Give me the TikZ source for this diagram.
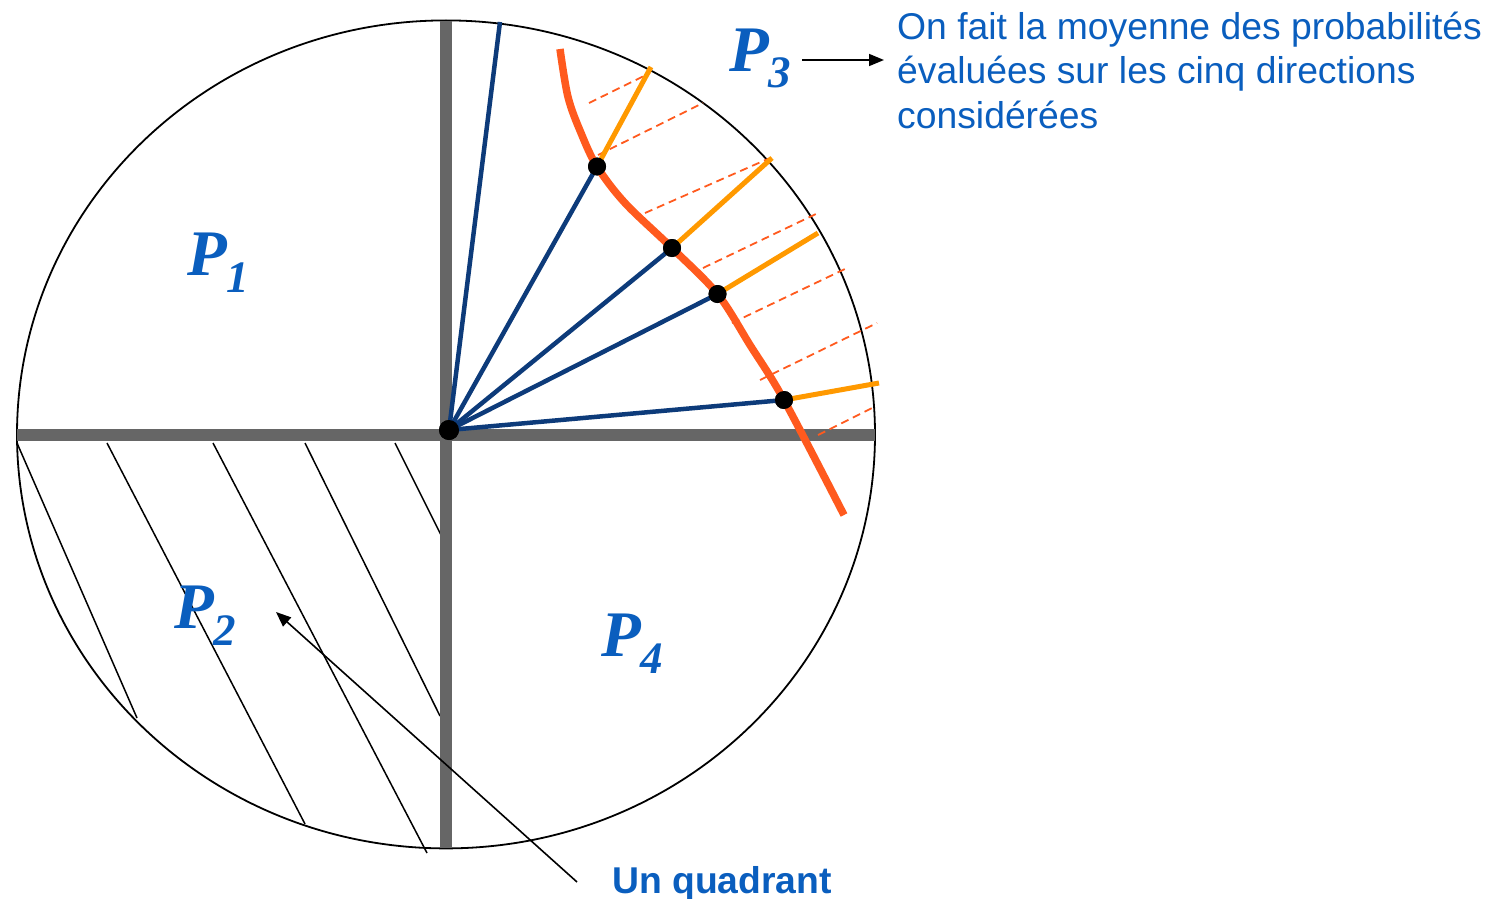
\documentclass[tikz,border=0pt]{standalone}
\usepackage{fontspec}
\setmainfont{Liberation Serif}
\newfontfamily\sansf{Liberation Sans}
\usetikzlibrary{arrows.meta}
\definecolor{pblue}{RGB}{10,94,190}
\definecolor{navy}{RGB}{13,59,122}
\definecolor{amber}{RGB}{255,153,0}
\definecolor{redor}{RGB}{255,90,30}
\definecolor{barg}{RGB}{102,102,102}
\tikzset{
  plabel/.style={inner sep=0pt, anchor=base west, text=pblue,
    font=\fontsize{65}{65}\selectfont\bfseries\itshape},
  bluetext/.style={inner sep=0pt, anchor=base west, text=pblue,
    font=\sansf\fontsize{37.3}{43}\selectfont},
  quadlabel/.style={inner sep=0pt, anchor=base west, text=pblue,
    font=\sansf\bfseries\fontsize{37.3}{43}\selectfont},
  bigdot/.style={circle, fill=black, inner sep=0pt, minimum size=18pt},
  axisbar/.style={draw=barg, line width=12pt},
  ray/.style={draw=navy, line width=4.5pt},
  ext/.style={draw=amber, line width=5pt},
  curveline/.style={draw=redor, line width=7.5pt},
  dashline/.style={draw=redor, line width=1.8pt, dash pattern=on 8pt off 5pt},
  hatch/.style={draw=black, line width=1.5pt},
  pointer/.style={draw=black, line width=1.6pt, -{Triangle[length=15pt,width=12pt]}}
}
\newcommand{\psub}[2]{#1\raisebox{-17pt}{\fontsize{45}{45}\selectfont #2}}
\begin{document}
\begin{tikzpicture}[x=1pt,y=-1pt]
\useasboundingbox (0,0) rectangle (1502,899);
% hatch lines in lower-left quadrant
\draw[hatch] (17,443) -- (137,718);
\draw[hatch] (107,443) -- (305,824);
\draw[hatch] (213,443) -- (427,853);
\draw[hatch] (305,443) -- (440,716);
\draw[hatch] (395,443) -- (441,535);
% ellipse
\draw[black, line width=1.8pt] (446,434.4) ellipse [x radius=429pt, y radius=414pt];
% axes
\draw[axisbar] (446,21) -- (446,848);
\draw[axisbar] (17,434.5) -- (875,434.5);
% dashed lines
\draw[dashline] (589,103) -- (650,73);
\draw[dashline] (598,155) -- (703,103);
\draw[dashline] (645,213) -- (770,158);
\draw[dashline] (703,268) -- (818,213);
\draw[dashline] (732,323) -- (847,268);
\draw[dashline] (760,380) -- (877,323);
\draw[dashline] (818,435) -- (876,406);
% nodes
\node[bigdot, minimum size=20pt] (o) at (449,430) {};
\node[bigdot] (d1) at (597,166.5) {};
\node[bigdot] (d2) at (672,248) {};
\node[bigdot] (d3) at (717.5,294) {};
\node[bigdot] (d4) at (784,400) {};
\coordinate (t0) at (500,22);
\coordinate (e1) at (651,67);
\coordinate (e2) at (772,158);
\coordinate (e3) at (818,233);
\coordinate (e4) at (879,383);
% rays
\draw[ray] (o.center) -- (t0);
\draw[ray] (o.center) -- (d1.center);
\draw[ray] (o.center) -- (d2.center);
\draw[ray] (o.center) -- (d3.center);
\draw[ray] (o.center) -- (d4.center);
% extensions
\draw[ext] (d1.center) -- (e1);
\draw[ext] (d2.center) -- (e2);
\draw[ext] (d3.center) -- (e3);
\draw[ext] (d4.center) -- (e4);
% curve
\draw[curveline] plot[smooth, tension=0.55] coordinates {(560,49) (568,97) (581,133) (597,166.5) (625,203) (672,248) (717.5,294) (750,345) (784,400) (844,515)};
% redraw dots on top
\node[bigdot, minimum size=20pt] at (o) {};
\node[bigdot] at (d1) {};
\node[bigdot] at (d2) {};
\node[bigdot] at (d3) {};
\node[bigdot] at (d4) {};
% labels
\node[plabel] (p1) at (187,275) {\psub{P}{1}};
\node[plabel] (p2) at (174,628) {\psub{P}{2}};
\node[plabel] (p3) at (729,71) {\psub{P}{3}};
\node[plabel] (p4) at (601,656) {\psub{P}{4}};
% right text
\node[bluetext] (l1) at (897,40) {On fait la moyenne des probabilités};
\node[bluetext] (l2) at (897,84) {évaluées sur les cinq directions};
\node[bluetext] (l3) at (897,128) {considérées};
\coordinate (a3s) at (802,60);
\coordinate (a3e) at (884,60);
\draw[pointer] (a3s) -- (a3e);
% quadrant label
\node[quadlabel] (q) at (612,893) {Un quadrant};
\coordinate (qs) at (577,882);
\coordinate (qt) at (276,612);
\draw[pointer] (qs) -- (qt);
\end{tikzpicture}
\end{document}
